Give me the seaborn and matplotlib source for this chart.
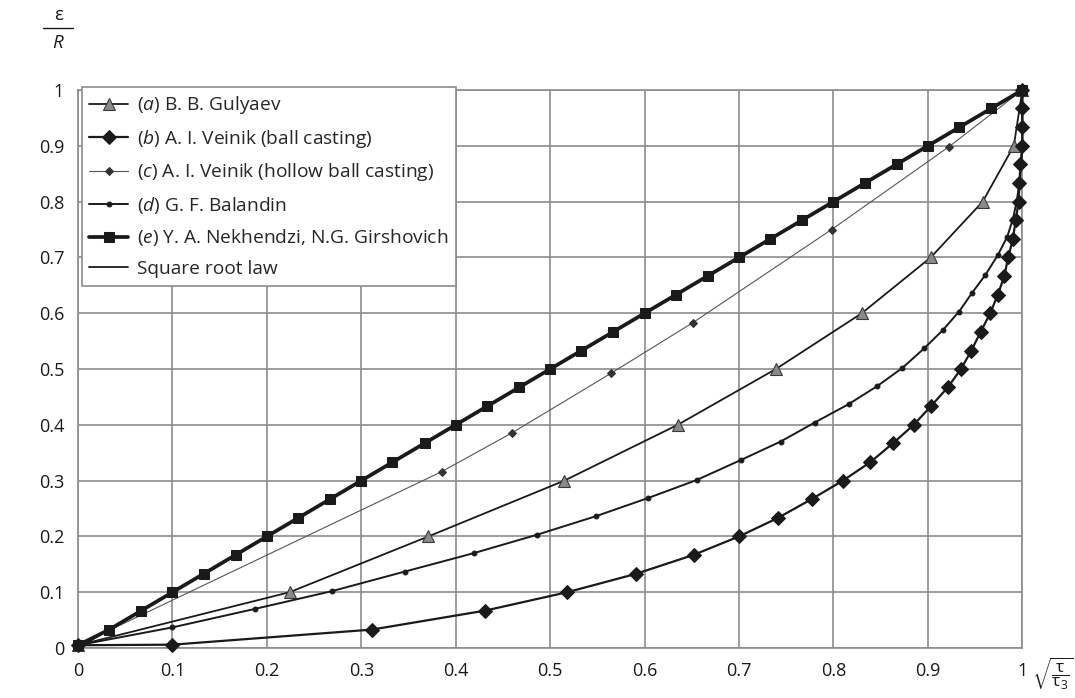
import matplotlib
matplotlib.use("Agg")
import matplotlib.pyplot as plt
from matplotlib.lines import Line2D
import seaborn as sns

# (a) B. B. Gulyaev
a_x = [0, 0.224, 0.371, 0.515, 0.635, 0.739, 0.830, 0.903, 0.958, 0.991, 1.0]
a_y = [0.005, 0.1, 0.2, 0.3, 0.4, 0.5, 0.6, 0.7, 0.8, 0.9, 1.0]

# (b) A. I. Veinik (ball casting)
b_x = [0, 0.1, 0.311, 0.431, 0.518, 0.591, 0.652, 0.700, 0.741, 0.777, 0.810, 0.839,
       0.863, 0.885, 0.903, 0.921, 0.935, 0.946, 0.956, 0.966, 0.974, 0.981,
       0.985, 0.990, 0.993, 0.996, 0.997, 0.998, 1.0, 1.0, 1.0, 1.0]
b_y = [0.005, 0.006, 0.033, 0.067, 0.1, 0.133, 0.167, 0.2, 0.233, 0.267, 0.3,
       0.333, 0.367, 0.4, 0.433, 0.467, 0.5, 0.533, 0.567, 0.6, 0.633, 0.667,
       0.7, 0.733, 0.767, 0.8, 0.833, 0.867, 0.9, 0.933, 0.967, 1.0]

# (c) A. I. Veinik (hollow ball casting)
c_x = [0, 0.385, 0.460, 0.564, 0.651, 0.798, 0.922, 1.0]
c_y = [0.005, 0.316, 0.386, 0.492, 0.583, 0.750, 0.898, 1.0]

# (d) G. F. Balandin
d_x = [0, 0.1, 0.187, 0.269, 0.346, 0.419, 0.486, 0.548, 0.604, 0.655, 0.702,
       0.744, 0.780, 0.816, 0.846, 0.873, 0.896, 0.916, 0.933, 0.947, 0.961,
       0.974, 0.984, 0.990, 0.994, 0.997, 0.999, 1.0, 1.0, 1.0, 1.0]
d_y = [0.005, 0.037, 0.07, 0.102, 0.137, 0.17, 0.203, 0.236, 0.269, 0.301, 0.337,
       0.37, 0.404, 0.437, 0.469, 0.502, 0.537, 0.57, 0.603, 0.637, 0.669,
       0.704, 0.737, 0.769, 0.8, 0.835, 0.868, 0.9, 0.935, 0.967, 1.0]

# (e) Y. A. Nekhendzi, N.G. Girshovich
e_x = [0, 0.033, 0.067, 0.1, 0.133, 0.167, 0.2, 0.233, 0.267, 0.3, 0.333, 0.367,
       0.4, 0.433, 0.467, 0.5, 0.533, 0.567, 0.6, 0.633, 0.667, 0.7, 0.733,
       0.767, 0.8, 0.833, 0.867, 0.9, 0.933, 0.967, 1.0]
e_y = [0.005, 0.033, 0.067, 0.1, 0.133, 0.167, 0.2, 0.233, 0.267, 0.3, 0.333, 0.367,
       0.4, 0.433, 0.467, 0.5, 0.533, 0.567, 0.6, 0.633, 0.667, 0.7, 0.733,
       0.767, 0.8, 0.833, 0.867, 0.9, 0.933, 0.967, 1.0]

# square root law
s_x = [0, 1.0]
s_y = [0, 1.0]

ticks = [0, 0.1, 0.2, 0.3, 0.4, 0.5, 0.6, 0.7, 0.8, 0.9, 1.0]
tick_labels = ["0", "0.1", "0.2", "0.3", "0.4", "0.5", "0.6", "0.7", "0.8", "0.9", "1"]

sns.set_style("whitegrid")
plt.rcParams["font.family"] = ["Open Sans", "DejaVu Sans"]
plt.rcParams["mathtext.fontset"] = "custom"
plt.rcParams["mathtext.rm"] = "Open Sans"
plt.rcParams["mathtext.it"] = "Open Sans:italic"

grid_c = "#8c8c8c"
ink = "#1a1a1a"

fig, ax = plt.subplots(figsize=(10.75, 6.98), dpi=100)
fig.subplots_adjust(left=0.0726, right=0.951, bottom=0.0716, top=0.871)

common = dict(estimator=None, sort=False, ax=ax, clip_on=False)

sns.lineplot(x=a_x, y=a_y, color=ink, linewidth=1.3, marker="^", markersize=9,
             markerfacecolor="#8a8a8a", markeredgecolor="#3a3a3a", markeredgewidth=0.8,
             label="($\\mathit{a}$) B. B. Gulyaev", zorder=4, **common)
sns.lineplot(x=b_x, y=b_y, color=ink, linewidth=1.6, marker="D", markersize=7.5,
             markerfacecolor=ink, markeredgecolor=ink,
             label="($\\mathit{b}$) A. I. Veinik (ball casting)", zorder=5, **common)
sns.lineplot(x=c_x, y=c_y, color="#555555", linewidth=0.8, marker="D", markersize=4.5,
             markerfacecolor="#333333", markeredgecolor="#333333",
             label="($\\mathit{c}$) A. I. Veinik (hollow ball casting)", zorder=4, **common)
sns.lineplot(x=d_x, y=d_y, color=ink, linewidth=1.4, marker="o", markersize=3.5,
             markerfacecolor=ink, markeredgecolor=ink,
             label="($\\mathit{d}$) G. F. Balandin", zorder=4, **common)
sns.lineplot(x=e_x, y=e_y, color=ink, linewidth=2.7, marker="s", markersize=7.5,
             markerfacecolor=ink, markeredgecolor=ink,
             label="($\\mathit{e}$) Y. A. Nekhendzi, N.G. Girshovich", zorder=6, **common)
sns.lineplot(x=s_x, y=s_y, color=ink, linewidth=1.3,
             label="Square root law", zorder=3, **common)

ax.set_xlim(0, 1)
ax.set_ylim(0, 1)
ax.set_xticks(ticks)
ax.set_xticklabels(tick_labels)
ax.set_yticks(ticks)
ax.set_yticklabels(tick_labels)
ax.set_xlabel("")
ax.set_ylabel("")
ax.grid(True, color=grid_c, linewidth=1.2)
for sp in ax.spines.values():
    sp.set_color(grid_c)
    sp.set_linewidth(1.2)
ax.tick_params(direction="out", length=6, width=1.2, color=grid_c,
               labelsize=13, labelcolor=ink, pad=4)

leg = ax.legend(loc="upper left", bbox_to_anchor=(0.004, 1.006), borderaxespad=0,
                fontsize=13.8, frameon=True, fancybox=False, edgecolor=grid_c,
                framealpha=1, handlelength=2.0, labelspacing=0.6,
                handletextpad=0.5, borderpad=0.4)
leg.get_frame().set_linewidth(1.2)
leg.set_zorder(10)

# axis captions: epsilon over R (top-left), sqrt(tau/tau3) (bottom-right)
fig.text(59 / 1075, 1 - 15 / 698, "ε", ha="center", va="center", fontsize=13.5, color=ink)
fig.text(58 / 1075, 1 - 43 / 698, "R", ha="center", va="center", fontsize=13.5,
         style="italic", color=ink)
fig.add_artist(Line2D([43 / 1075, 73 / 1075], [1 - 28 / 698, 1 - 28 / 698],
                      color=ink, linewidth=1.0))
fig.text(1053 / 1075, 1 - 674 / 698, r"$\sqrt{\dfrac{\mathrm{\tau}}{\mathrm{\tau}_3}}$",
         ha="center", va="center", fontsize=12.5, color=ink)

fig.savefig("out.png", dpi=100)
